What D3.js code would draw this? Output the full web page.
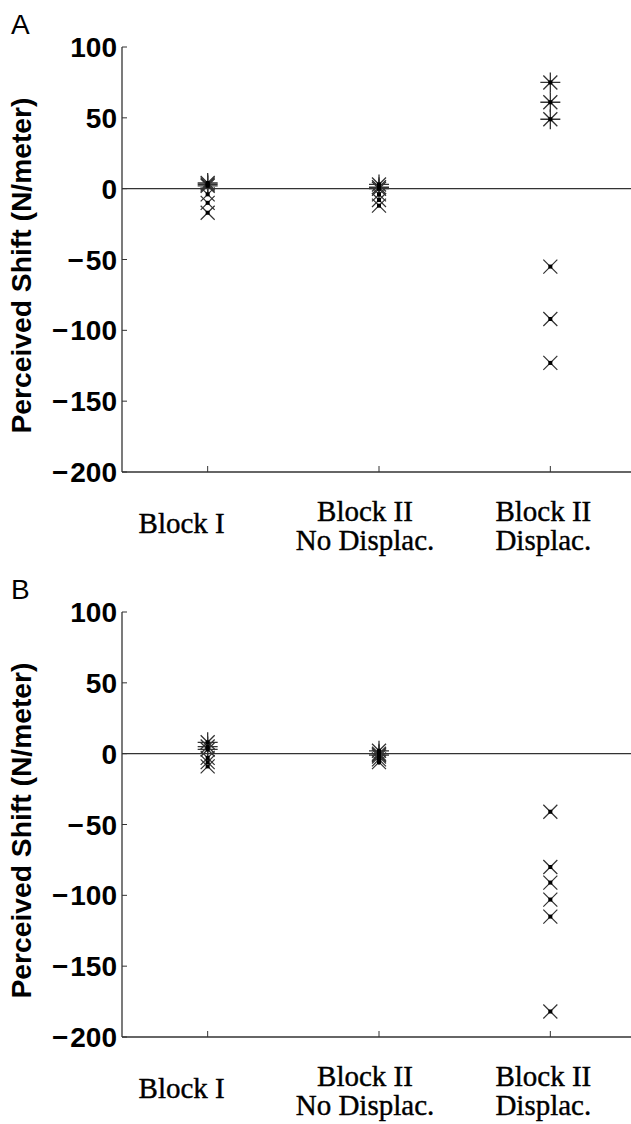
<!DOCTYPE html>
<html lang="en">
<head>
<meta charset="utf-8">
<title>Perceived Shift</title>
<script src="https://d3js.org/d3.v7.min.js"></script>
<style>
  body { margin: 0; background: #fff; }
  .tick-label { font-family: "Liberation Sans", Arial, sans-serif; font-weight: bold; font-size: 28px; fill: #000; }
  .ylab { font-family: "Liberation Sans", Arial, sans-serif; font-weight: bold; font-size: 27px; fill: #000; }
  .cat { font-family: "Liberation Serif", "Times New Roman", serif; font-size: 29px; fill: #000; stroke: #000; stroke-width: 0.4; }
  .panel { font-family: "Liberation Sans", Arial, sans-serif; font-size: 28px; fill: #000; }
</style>
</head>
<body>
<div id="chart"></div>
<script>
// categories and tick values
var categories = ["Block I", "Block II No Displac.", "Block II Displac."];
var catLines = [["Block I"], ["Block II", "No Displac."], ["Block II", "Displac."]];
var yTicks = [100, 50, 0, -50, -100, -150, -200];

// panel A values (N/meter), one array per category
var aStar = [[4, 3, 2], [3, 1, 0], [75, 61, 49]];
var aCross = [[-4, -10, -17], [-4, -8, -12], [-55, -92, -123]];

// panel B values
var bStar = [[8, 5, 3], [2, 0, -1], []];
var bCross = [[-3, -6, -9], [-2, -4, -6], [-41, -80, -91, -103, -115, -182]];

var W = 631, H = 1124;
var svg = d3.select("#chart").append("svg")
    .attr("width", W).attr("height", H);

var x = d3.scalePoint()
    .domain(categories)
    .range([122, 636])
    .padding(0.5);

// where matlab put the category text relative to the tick
var labelShift = [-26, -14, -7];
var ink = "#333";

var drawPanel = function(letter, top, stars, crosses) {
  var y = d3.scaleLinear()
      .domain([-200, 100])
      .range([top + 425, top]);
  var g = svg.append("g");

  // zero line
  g.append("line")
      .attr("x1", x.range()[0]).attr("x2", W)
      .attr("y1", y(0)).attr("y2", y(0))
      .attr("stroke", ink).attr("stroke-width", 1.3);

  // y axis
  g.append("line")
      .attr("x1", 122).attr("x2", 122)
      .attr("y1", y(100)).attr("y2", y(-200))
      .attr("stroke", ink).attr("stroke-width", 1.3);
  g.selectAll(".yt").data(yTicks).enter().append("line")
      .attr("x1", 122).attr("x2", 127)
      .attr("y1", d => y(d)).attr("y2", d => y(d))
      .attr("stroke", ink).attr("stroke-width", 1);
  var tl = g.selectAll(".tick-label").data(yTicks).enter().append("text")
      .attr("class", "tick-label")
      .attr("x", 117).attr("y", d => y(d) + 10)
      .attr("text-anchor", "end");
  tl.filter(d => d < 0).append("tspan").text("\u2212");
  tl.append("tspan")
      .attr("dx", d => d < 0 ? 2 : 0)
      .text(d => Math.abs(d));

  // x axis
  g.append("line")
      .attr("x1", 122).attr("x2", W)
      .attr("y1", y(-200)).attr("y2", y(-200))
      .attr("stroke", ink).attr("stroke-width", 1.3);
  g.selectAll(".xt").data(categories).enter().append("line")
      .attr("x1", d => x(d)).attr("x2", d => x(d))
      .attr("y1", y(-200)).attr("y2", y(-200) - 6)
      .attr("stroke", ink).attr("stroke-width", 1);

  categories.forEach(function(c, i) {
    var lines = catLines[i];
    var t = g.append("text").attr("class", "cat")
        .attr("text-anchor", "middle");
    lines.forEach(function(l, j) {
      var base = lines.length == 1 ? y(-200) + 61 : y(-200) + 49 + j * 29;
      t.append("tspan")
          .attr("x", x(c) + labelShift[i])
          .attr("y", base)
          .text(l);
    });
  });

  // y label
  var ly = (y(100) + y(-200)) / 2 + 6;
  g.append("text").attr("class", "ylab")
      .attr("transform", "translate(31," + ly + ") rotate(-90)")
      .attr("text-anchor", "middle")
      .attr("textLength", 336)
      .attr("lengthAdjust", "spacingAndGlyphs")
      .text("Perceived Shift (N/meter)");

  g.append("text").attr("class", "panel")
      .attr("x", 11).attr("y", top - 13)
      .text(letter);

  // markers
  var starPts = [], crossPts = [];
  stars.forEach((arr, i) => arr.forEach(v => starPts.push([categories[i], v])));
  crosses.forEach((arr, i) => arr.forEach(v => crossPts.push([categories[i], v])));

  var star = "M-10,0H10M0,-10V10M-7,-7L7,7M-7,7L7,-7";
  var cross = "M-7,-7L7,7M-7,7L7,-7";

  g.selectAll(".star").data(starPts).enter().append("path")
      .attr("transform", d => "translate(" + x(d[0]) + "," + y(d[1]) + ")")
      .attr("d", star)
      .attr("fill", "none").attr("stroke", ink).attr("stroke-width", 1.3);
  g.selectAll(".cross").data(crossPts).enter().append("path")
      .attr("transform", d => "translate(" + x(d[0]) + "," + y(d[1]) + ")")
      .attr("d", cross)
      .attr("fill", "none").attr("stroke", ink).attr("stroke-width", 1.2);
  // little dark centre, like the matlab marker export
  g.selectAll(".dot").data(starPts.concat(crossPts)).enter().append("rect")
      .attr("x", d => x(d[0]) - 2).attr("y", d => y(d[1]) - 2)
      .attr("width", 4).attr("height", 4)
      .attr("fill", "#000");
};

drawPanel("A", 47, aStar, aCross);
drawPanel("B", 612, bStar, bCross);
</script>
</body>
</html>
